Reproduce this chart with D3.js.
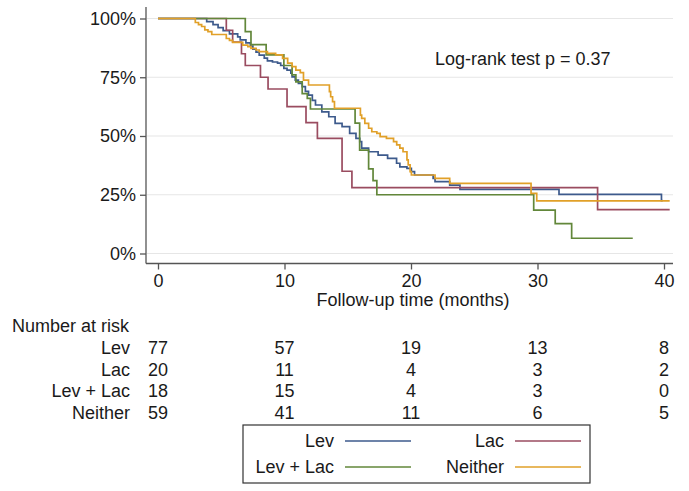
<!DOCTYPE html>
<html>
<head>
<meta charset="utf-8">
<script src="https://cdn.jsdelivr.net/npm/d3@7"></script>
<style>
  body { margin: 0; background: #fff; }
  text { font-family: "Liberation Sans", Arial, sans-serif; fill: #1a1a1a; }
</style>
</head>
<body>
<div id="chart"></div>
<script>
var width = 689
var height = 491

// Kaplan-Meier steps: [month, survival]
var lev = [[0,1],[3.85,0.987],[4.35,0.974],[4.75,0.961],[5.15,0.948],[5.65,0.935],[6.3,0.922],[6.5,0.909],
  [6.95,0.896],[7.3,0.883],[7.5,0.87],[7.75,0.857],[8.0,0.844],[8.4,0.831],[8.65,0.82],[9.05,0.815],
  [9.45,0.81],[9.7,0.8],[9.95,0.788],[10.2,0.78],[10.5,0.767],[10.6,0.752],[10.85,0.738],[11.1,0.724],
  [11.4,0.71],[11.65,0.69],[11.9,0.674],[12.2,0.652],[12.45,0.632],[12.95,0.603],[13.5,0.582],[14.0,0.554],
  [14.55,0.54],[15.15,0.511],[15.65,0.49],[15.95,0.476],[16.1,0.448],[16.65,0.433],[17.4,0.419],[18.15,0.405],
  [18.86,0.384],[19.12,0.369],[19.68,0.362],[20.03,0.348],[20.28,0.334],[21.75,0.32],[21.9,0.306],[23.06,0.291],
  [23.87,0.273],[31.7,0.252],[39.8,0.225],[39.9,0.225]]
var lac = [[0,1],[5.4,0.95],[5.9,0.9],[6.6,0.85],[6.9,0.8],[8.1,0.75],[8.7,0.7],[10.2,0.625],[11.7,0.557],
  [12.6,0.49],[14.55,0.35],[15.33,0.28],[34.75,0.187],[40.45,0.187]]
var levLac = [[0,1],[6.9,0.944],[7.35,0.889],[8.55,0.845],[9.95,0.8],[10.6,0.76],[10.9,0.73],[11.4,0.68],
  [11.8,0.66],[12.05,0.615],[15.58,0.555],[15.94,0.44],[16.65,0.36],[17.0,0.31],[17.3,0.25],[29.7,0.185],
  [31.4,0.127],[32.7,0.065],[37.53,0.065]]
var neither = [[0,1],[2.95,0.983],[3.2,0.974],[3.45,0.966],[3.7,0.952],[3.95,0.944],[4.25,0.932],[5.4,0.915],
  [5.65,0.907],[5.9,0.898],[6.7,0.887],[7.1,0.88],[7.35,0.873],[7.75,0.866],[8.0,0.859],[8.65,0.852],
  [9.3,0.845],[9.85,0.83],[10.25,0.81],[10.6,0.795],[10.9,0.78],[11.25,0.77],[11.5,0.738],[11.9,0.717],
  [13.55,0.689],[13.65,0.667],[13.8,0.646],[13.95,0.618],[16.0,0.589],[16.1,0.575],[16.35,0.554],[16.65,0.533],
  [16.9,0.518],[17.3,0.511],[17.56,0.497],[18.06,0.49],[18.62,0.476],[18.87,0.462],[19.12,0.448],[19.37,0.433],
  [19.68,0.398],[19.78,0.377],[19.93,0.348],[20.03,0.334],[21.9,0.32],[23.06,0.298],[29.49,0.256],[29.94,0.224],
  [40.45,0.224]]

var groups = ["Lev", "Lac", "Lev + Lac", "Neither"]
var colors = ["#3d5a8c", "#9a4c60", "#62873a", "#e1a028"]
var curves = [lev, lac, levLac, neither]

var xTicks = [0, 10, 20, 30, 40]
var yTicks = [0, 0.25, 0.5, 0.75, 1]

// number at risk at each x tick
var riskLev = [77, 57, 19, 13, 8]
var riskLac = [20, 11, 4, 3, 2]
var riskLevLac = [18, 15, 4, 3, 0]
var riskNeither = [59, 41, 11, 6, 5]
var riskRows = [riskLev, riskLac, riskLevLac, riskNeither]

var fontSize = "18px"

var svg = d3.select("#chart").append("svg")
  .attr("width", width)
  .attr("height", height)

var x = d3.scaleLinear().domain([0, 40]).range([158, 664])
var y = d3.scaleLinear().domain([0, 1]).range([253.5, 18.5])

// gridlines
svg.selectAll(".grid").data(yTicks).enter().append("line")
  .attr("x1", 147).attr("x2", 673)
  .attr("y1", d => y(d)).attr("y2", d => y(d))
  .attr("stroke", "#e6e6e6").attr("stroke-width", 1.2)

// axes
var yAxis = d3.axisLeft(y).tickValues(yTicks).tickSize(6).tickSizeOuter(0)
  .tickFormat(d => Math.round(d * 100) + "%")
var gy = svg.append("g").attr("transform", "translate(146,0)").call(yAxis)
gy.select(".domain").attr("d", "M0,7V263.5")

var xAxis = d3.axisBottom(x).tickValues(xTicks).tickSize(6).tickSizeOuter(0)
var gx = svg.append("g").attr("transform", "translate(0,263.5)").call(xAxis)
gx.select(".domain").attr("d", "M146,0H673")

svg.selectAll(".domain, .tick line").attr("stroke", "#555").attr("stroke-width", 1.3)
gy.selectAll("text").attr("x", -10).style("font-size", fontSize).attr("fill", "#1a1a1a")
gx.selectAll("text").attr("y", 11).style("font-size", fontSize).attr("fill", "#1a1a1a")

svg.append("text")
  .attr("x", 413).attr("y", 306)
  .attr("text-anchor", "middle")
  .style("font-size", fontSize)
  .text("Follow-up time (months)")

svg.append("text")
  .attr("x", 435).attr("y", 65)
  .style("font-size", fontSize)
  .text("Log-rank test p = 0.37")

// survival curves
var line = d3.line()
  .x(d => x(d[0]))
  .y(d => y(d[1]))
  .curve(d3.curveStepAfter)

curves.forEach((c, i) => {
  svg.append("path")
    .attr("d", line(c))
    .attr("fill", "none")
    .attr("stroke", colors[i])
    .attr("stroke-width", 1.7)
})

// number at risk table
svg.append("text")
  .attr("x", 12).attr("y", 332)
  .style("font-size", fontSize)
  .text("Number at risk")

var rowY = [354, 376, 397, 419]
groups.forEach((g, i) => {
  svg.append("text")
    .attr("x", 130).attr("y", rowY[i])
    .attr("text-anchor", "end")
    .style("font-size", fontSize)
    .text(g)
  svg.selectAll(".risk" + i).data(riskRows[i]).enter().append("text")
    .attr("x", (d, j) => x(xTicks[j]))
    .attr("y", rowY[i])
    .attr("text-anchor", "middle")
    .style("font-size", fontSize)
    .text(d => d)
})

// legend
var legend = svg.append("g")
legend.append("rect")
  .attr("x", 243).attr("y", 425)
  .attr("width", 347).attr("height", 58)
  .attr("fill", "#fff")
  .attr("stroke", "#333").attr("stroke-width", 1.2)

var legX = [334, 504, 334, 504]
var legY = [441, 441, 467, 467]
groups.forEach((g, i) => {
  legend.append("text")
    .attr("x", legX[i]).attr("y", legY[i] + 6)
    .attr("text-anchor", "end")
    .style("font-size", fontSize)
    .text(g)
  legend.append("line")
    .attr("x1", legX[i] + 11).attr("x2", legX[i] + 77)
    .attr("y1", legY[i]).attr("y2", legY[i])
    .attr("stroke", colors[i]).attr("stroke-width", 1.7)
})
</script>
</body>
</html>
